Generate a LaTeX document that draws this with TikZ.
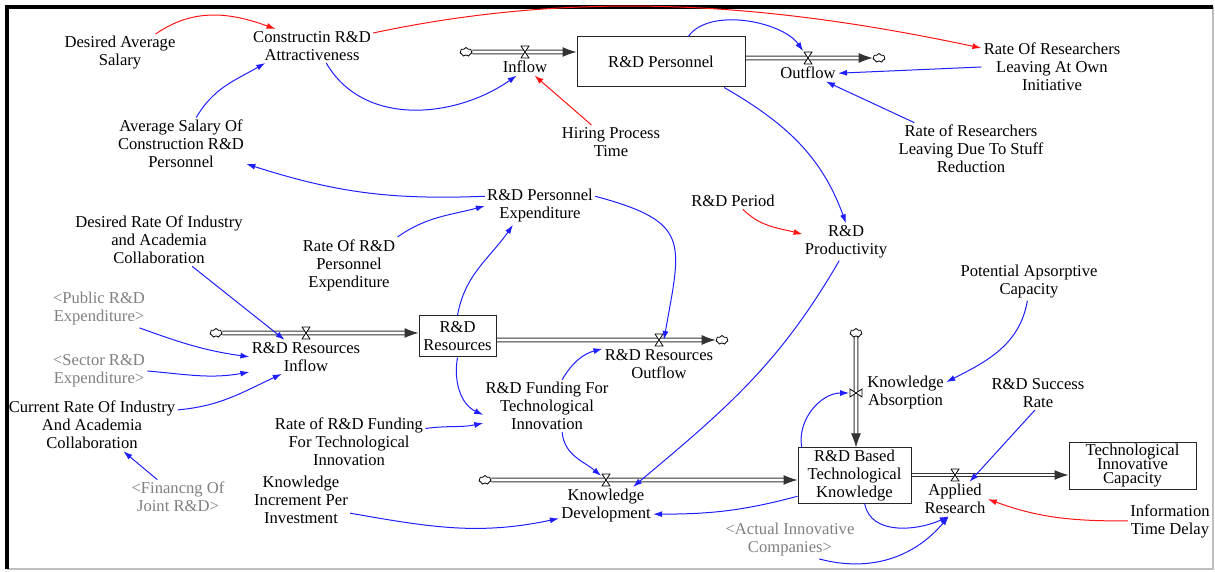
\documentclass[tikz,border=0pt]{standalone}
\usepackage{fontspec}
\setmainfont{Liberation Serif}
\usetikzlibrary{arrows.meta,shapes.symbols,positioning}
\pgfdeclarelayer{background}
\pgfsetlayers{background,main}
\definecolor{lnkblue}{RGB}{30,30,255}
\definecolor{lnkred}{RGB}{255,20,20}
\definecolor{shdgray}{RGB}{128,128,128}

\begin{document}
\begin{tikzpicture}[x=0.5pt,y=0.5pt,
   var/.style={align=center,inner sep=1pt,font=\fontsize{8.3}{9}\selectfont},
   shdw/.style={var,text=shdgray},
   stock/.style={draw=black!85,line width=0.5pt,align=center,inner sep=1pt,font=\fontsize{8.3}{9}\selectfont},
   src/.style={cloud,cloud puffs=7,draw,fill=white,line width=0.4pt,minimum width=6pt,minimum height=4.5pt,inner sep=0pt},
   valve/.style={minimum width=4.5pt,minimum height=6.5pt,inner sep=0pt,path picture={
     \draw[fill=white,line width=0.4pt]
       ([shift={(.25pt,.25pt)}]path picture bounding box.south west) --
       ([shift={(-.25pt,.25pt)}]path picture bounding box.south east) --
       ([shift={(.25pt,-.25pt)}]path picture bounding box.north west) --
       ([shift={(-.25pt,-.25pt)}]path picture bounding box.north east) -- cycle;}},
   valvev/.style={minimum width=6.5pt,minimum height=4.5pt,inner sep=0pt,path picture={
     \draw[fill=white,line width=0.4pt]
       ([shift={(.25pt,.25pt)}]path picture bounding box.south west) --
       ([shift={(.25pt,-.25pt)}]path picture bounding box.north west) --
       ([shift={(-.25pt,.25pt)}]path picture bounding box.south east) --
       ([shift={(-.25pt,-.25pt)}]path picture bounding box.north east) -- cycle;}},
   pipe/.style={draw=black!80,double=white,double distance=1.4pt,line width=0.5pt,-{Latex[length=7pt,width=5pt]}},
   conn/.style={color=lnkblue,line width=0.5pt,-{Latex[length=4.5pt,width=3pt]}},
   connred/.style={conn,color=lnkred}]
   \useasboundingbox (0,0) rectangle (1215,572);
   \draw[black!25,line width=0.8pt] (7,3) -- (1213,3) -- (1213,565);
   \draw[line width=1.6pt] (7,3) -- (7,565) -- (1213,565);

   % personnel chain
   \node[var] (Sal_D) at (120,519) {Desired Average\\Salary};
   \node[var] (Attr) at (312,526) {Constructin R\&D\\Attractiveness};
   \node[var] (Sal_A) at (181,428) {Average Salary Of\\Construction R\&D\\Personnel};
   \node[src] (C_1) at (466,520) {};
   \node[valve] (In_v) at (525,520) {};
   \node[var,below=0pt of In_v] (In) {Inflow};
   \node[stock,minimum width=84pt,minimum height=25pt] (Pers) at (661,510) {R\&D Personnel};
   \node[valve] (Out_v) at (808,514) {};
   \node[var,below=0pt of Out_v] (Out) {Outflow};
   \node[src] (C_2) at (879,514) {};
   \node[var] (Own) at (1052,505) {Rate Of Researchers\\Leaving At Own\\Initiative};
   \node[var] (Hire) at (611,430) {Hiring Process\\Time};
   \node[var] (Stuff) at (971,423) {Rate of Researchers\\Leaving Due To Stuff\\Reduction};
   \node[var] (PExp) at (540,366) {R\&D Personnel\\Expenditure};
   \node[var] (Per) at (733,371) {R\&D Period};
   \node[var] (Prod) at (846,330) {R\&D\\Productivity};

   % resources chain
   \node[var] (DRate) at (159,332) {Desired Rate Of Industry\\and Academia\\Collaboration};
   \node[var] (RPExp) at (349,307) {Rate Of R\&D\\Personnel\\Expenditure};
   \node[shdw] (Pub) at (99,263) {<Public R\&D\\Expenditure>};
   \node[shdw] (Sec) at (99,201) {<Sector R\&D\\Expenditure>};
   \node[var] (Cur) at (92,147) {Current Rate Of Industry\\And Academia\\Collaboration};
   \node[shdw] (Fin) at (178,75) {<Financng Of\\Joint R\&D>};
   \node[src] (C_3) at (216,239) {};
   \node[valve] (ResIn_v) at (306,239) {};
   \node[var,below=0pt of ResIn_v] (ResIn) {R\&D Resources\\Inflow};
   \node[stock,minimum width=38.5pt,minimum height=20.5pt] (Res) at (457.5,235.5) {R\&D\\Resources};
   \node[valve] (ResOut_v) at (659,232) {};
   \node[var,below=0pt of ResOut_v] (ResOut) {R\&D Resources\\Outflow};
   \node[src] (C_4) at (722,232) {};
   \node[var] (RFund) at (349,130) {Rate of R\&D Funding\\For Technological\\Innovation};
   \node[var] (Fund) at (547,166) {R\&D Funding For\\Technological\\Innovation};

   % knowledge chain
   \node[var] (KInc) at (301,72) {Knowledge\\Increment Per\\Investment};
   \node[src] (C_5) at (485,92) {};
   \node[valve] (KD_v) at (606,92) {};
   \node[var,below=0pt of KD_v] (KD) {Knowledge\\Development};
   \node[stock,minimum width=56.5pt,minimum height=27.5pt] (Know) at (854.5,96.5) {R\&D Based\\Technological\\Knowledge};
   \node[src] (C_6) at (856,239) {};
   \node[valvev] (KA_v) at (856,179) {};
   \node[var,right=1pt of KA_v] (KA) {Knowledge\\Absorption};
   \node[var] (Pot) at (1029,290) {Potential Apsorptive\\Capacity};
   \node[var] (Succ) at (1038,179) {R\&D Success\\Rate};
   \node[valve] (AR_v) at (955,97) {};
   \node[var,below=0pt of AR_v] (AR) {Applied\\Research};
   \node[stock,minimum width=63.5pt,minimum height=23pt] (TIC) at (1132.5,106) {Technological\\[-2pt]Innovative\\[-2pt]Capacity};
   \node[shdw] (Act) at (790,32) {<Actual Innovative\\Companies>};
   \node[var] (Info) at (1170,51) {Information\\Time Delay};

   \begin{pgfonlayer}{background}
     \draw[pipe] (C_1) -- (Pers.west |- C_1);
     \draw[pipe] (Pers.east |- C_2) -- (C_2);
     \draw[pipe] (C_3) -- (Res.west |- C_3);
     \draw[pipe] (Res.east |- C_4) -- (C_4);
     \draw[pipe] (C_5) -- (Know.west |- C_5);
     \draw[pipe] (C_6) -- (C_6 |- Know.north);
     \draw[pipe] (Know.east |- AR_v) -- (TIC.west |- AR_v);
   \end{pgfonlayer}

   \path[connred]
    (Sal_D.28) edge[out=35,in=160] (Attr.155)
    (Attr.12) edge[out=12,in=168,looseness=0.9] (Own.165)
    (Hire) edge (In)
    (Per.-40) edge[out=-45,in=165] (Prod.170)
    (Info.west) edge[out=180,in=-20] (AR.east);
   \path[conn]
    (Sal_A.60) edge[out=60,in=210] (Attr.200)
    (Attr.-50) edge[out=-60,in=215] (In.225)
    (Pers.43) edge[out=55,in=125,looseness=0.8] (Out_v)
    (Own.west) edge (Out.east)
    (Stuff) edge (Out)
    (Pers.-22) edge[out=-30,in=110] (Prod.north)
    (PExp.170) edge[bend left=10] (Sal_A.-17)
    (RPExp.north east) edge[out=35,in=195] (PExp.west)
    (Res.north) edge[out=80,in=235] (PExp.215)
    (PExp.10) edge[out=-15,in=80,looseness=1.6] (ResOut_v.east)
    (DRate) edge (ResIn)
    (Pub.-25) edge[out=-20,in=172] (ResIn.west)
    (Sec.east) edge[out=-5,in=190] (ResIn.195)
    (Cur.10) edge[out=5,in=205] (ResIn.215)
    (Fin) edge (Cur)
    (Res.south) edge[out=-100,in=155] (Fund.188)
    (Fund.60) edge[out=60,in=195] (ResOut.165)
    (RFund.10) edge[out=8,in=192] (Fund.195)
    (Fund.-60) edge[out=-85,in=140] (KD_v)
    (Prod.-110) edge[out=240,in=40] (KD.35)
    (KInc.-15) edge[out=-10,in=192] (KD.195)
    (Know.200) edge[out=195,in=0] (KD.-10)
    (Pot.-95) edge[out=-100,in=27] (KA.15)
    (Know.152) edge[out=100,in=180] (KA_v.west)
    (Succ.-100) edge (AR.50)
    (Know.-70) edge[out=-80,in=205] (AR.-110)
    (Act.-33) edge[out=-15,in=230] (AR.-110);
\end{tikzpicture}
\end{document}
